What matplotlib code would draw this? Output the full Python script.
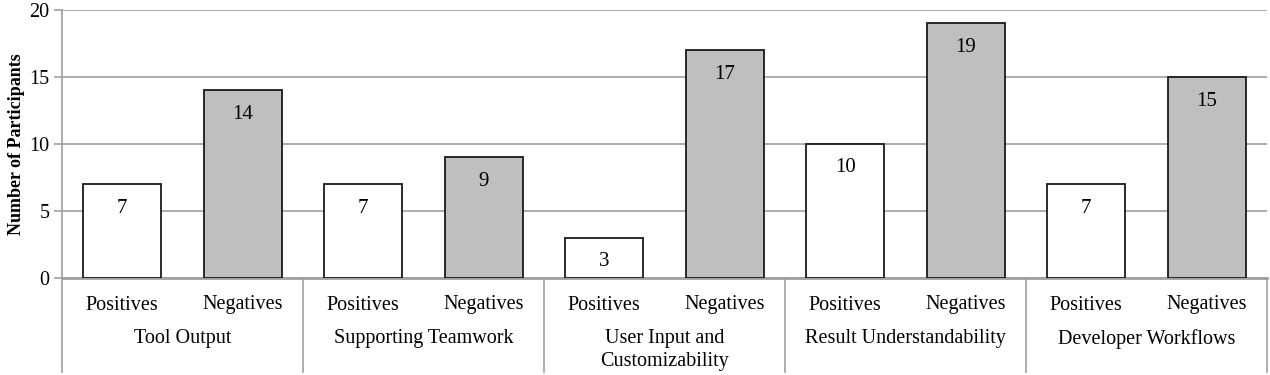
import matplotlib.pyplot as plt
from matplotlib.transforms import blended_transform_factory

# data
groups = ['Tool Output', 'Supporting Teamwork', 'User Input and\nCustomizability',
          'Result Understandability', 'Developer Workflows']
positives = [7, 7, 3, 10, 7]
negatives = [14, 9, 17, 19, 15]
sub_labels = ['Positives', 'Negatives']

plt.rcParams['font.family'] = ['Liberation Serif', 'DejaVu Serif']

fig = plt.figure(figsize=(12.7, 3.75), dpi=100)
ax = fig.add_axes([62 / 1270, 1 - 278 / 375, 1205 / 1270, 268 / 375])

grid_c = '#a0a0a0'
bw = 0.65
pos_x = [2 * i + 0.5 for i in range(len(groups))]
neg_x = [2 * i + 1.5 for i in range(len(groups))]

ax.bar(pos_x, positives, width=bw, color='white', edgecolor='#1a1a1a', linewidth=1.3, zorder=3)
ax.bar(neg_x, negatives, width=bw, color='#bfbfbf', edgecolor='#1a1a1a', linewidth=1.3, zorder=3)

for x, v in zip(pos_x + neg_x, positives + negatives):
    ax.annotate(str(v), (x, v), xytext=(0, -24), textcoords='offset pixels',
                ha='center', va='center', fontsize=15, zorder=4)

ax.set_xlim(0, 2 * len(groups))
ax.set_ylim(0, 20)
ax.set_yticks([0, 5, 10, 15, 20])
ax.tick_params(axis='y', labelsize=14.5, color=grid_c, length=6, width=1.2, pad=3)
ax.yaxis.grid(True, color=grid_c, linewidth=1.2, zorder=0)
ax.set_axisbelow(True)
for s in ['top', 'right']:
    ax.spines[s].set_visible(False)
ax.spines['left'].set_color(grid_c)
ax.spines['left'].set_linewidth(1.2)
ax.spines['bottom'].set_color(grid_c)
ax.spines['bottom'].set_linewidth(2)

ax.set_xticks([])
ax.set_ylabel('Number of Participants', fontsize=13, fontweight='bold', labelpad=3)

trans = blended_transform_factory(ax.transData, ax.transAxes)
px = 1 / 268
for i, g in enumerate(groups):
    ax.text(2 * i + 0.5, -27 * px, sub_labels[0], transform=trans, ha='center', va='center', fontsize=14.5)
    ax.text(2 * i + 1.5, -27 * px, sub_labels[1], transform=trans, ha='center', va='center', fontsize=14.5)
    ax.text(2 * i + 1, -51 * px, g, transform=trans, ha='center', va='top', fontsize=14.5, linespacing=1.3)
for i in range(len(groups) + 1):
    ax.plot([2 * i, 2 * i], [0, -94 * px], transform=trans, color=grid_c, linewidth=1.2, clip_on=False)

fig.savefig('out.png', dpi=100)
